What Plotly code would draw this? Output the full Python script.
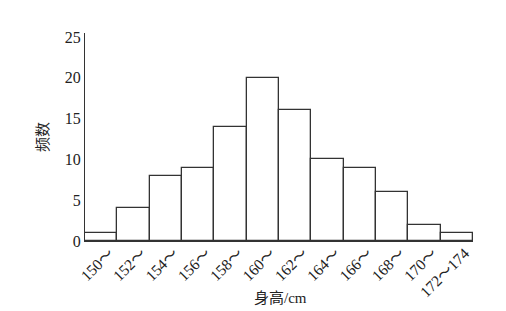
import plotly.graph_objects as go

categories = ["150～", "152～", "154～", "156～", "158～", "160～", "162～", "164～", "166～", "168～", "170～", "172～174"]
counts = [1, 4, 8, 9, 14, 20, 16, 10, 9, 6, 2, 1]
y_ticks = [0, 5, 10, 15, 20, 25]

fig = go.Figure()
fig.add_trace(go.Bar(
    x=categories, y=counts,
    marker=dict(color="white", line=dict(color="#333333", width=1.3)),
    width=1.0,
))

font_family = "Liberation Serif, Noto Sans CJK SC"
fig.update_layout(
    width=506, height=311,
    margin=dict(l=85, r=33, t=33, b=70),
    paper_bgcolor="white", plot_bgcolor="white",
    bargap=0,
    showlegend=False,
    font=dict(family=font_family, size=14, color="#222222"),
    annotations=[dict(
        text="身高/cm", xref="paper", yref="paper", x=0.505, y=-0.275,
        xanchor="center", yanchor="middle", showarrow=False,
        font=dict(family=font_family, size=15, color="#222222"),
    )],
)
fig.update_xaxes(
    type="category",
    range=[-0.5, 11.5],
    tickangle=-45,
    ticklabelshift=8,
    ticklabelstandoff=-4,
    showgrid=False, zeroline=False,
    showline=True, linecolor="#333333", linewidth=1.3,
    ticks="", automargin=False,
    tickfont=dict(family=font_family, size=15.5),
)
fig.update_yaxes(
    range=[0, 25.5],
    tickvals=y_ticks,
    showgrid=False, zeroline=False,
    showline=True, linecolor="#333333", linewidth=1.3,
    ticks="", automargin=False,
    tickfont=dict(family=font_family, size=16),
    title=dict(text="频数", font=dict(family="Noto Sans CJK SC", size=15), standoff=12),
)

fig.write_html("out.html")
